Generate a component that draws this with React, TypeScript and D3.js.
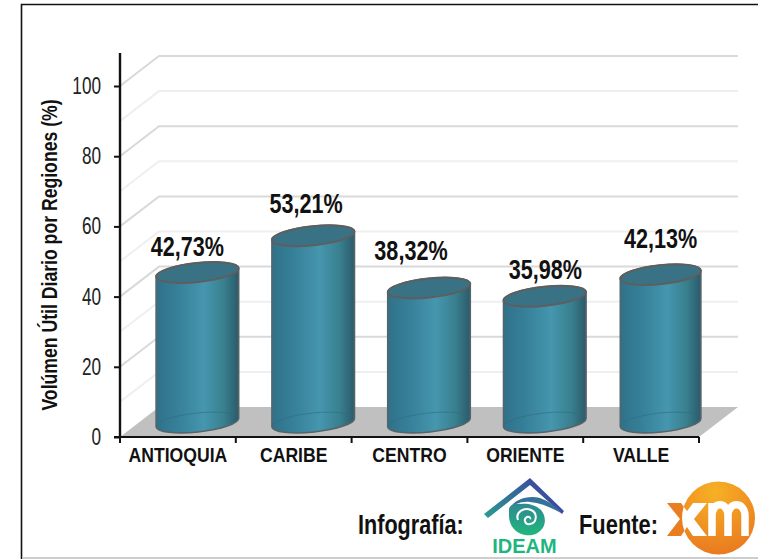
import React, { useEffect, useRef } from "react";
import * as d3 from "d3";

const regions = ["ANTIOQUIA", "CARIBE", "CENTRO", "ORIENTE", "VALLE"];
const volumes = [42.73, 53.21, 38.32, 35.98, 42.13];
const volumeLabels = ["42,73%", "53,21%", "38,32%", "35,98%", "42,13%"];
const majorTicks = [0, 20, 40, 60, 80, 100];
const gridValues = [10, 20, 30, 40, 50, 60, 70, 80, 90, 100];

const width = 758;
const height = 559;
const sans = "'Liberation Sans', Arial, sans-serif";

// the original uses a condensed face, so squeeze the text sideways
function squeeze(sel: any, ratio: number) {
  sel.each(function (this: SVGTextElement) {
    const w = this.getComputedTextLength();
    d3.select(this).attr("textLength", w * ratio).attr("lengthAdjust", "spacingAndGlyphs");
  });
}

function App() {
  const svgRef = useRef<SVGSVGElement | null>(null);

  useEffect(() => {
    const svg = d3.select(svgRef.current);
    svg.selectAll("*").remove();

    const x = d3.scaleBand().domain(regions).range([120, 699]);
    const y = d3.scaleLinear().domain([0, 100]).range([437, 86]);
    const depthX = 39;
    const depthY = -30;
    // hand placed labels, same as the source picture
    const labelDx = [-10, -7, -18, 0.5, 0];
    const labelDy = [-17, -23, -28, -17, -27];

    const defs = svg.append("defs");
    const grad = defs
      .append("linearGradient")
      .attr("id", "cyl")
      .attr("x1", 0)
      .attr("x2", 1)
      .attr("y1", 0)
      .attr("y2", 0);
    [
      [0, "#2f7289"],
      [0.25, "#367f98"],
      [0.58, "#4596ae"],
      [0.82, "#39808f"],
      [1, "#2b5a6b"]
    ].forEach(([o, c]) => grad.append("stop").attr("offset", o).attr("stop-color", c));

    const roof = defs
      .append("linearGradient")
      .attr("id", "roof")
      .attr("gradientUnits", "userSpaceOnUse")
      .attr("x1", 486)
      .attr("y1", 516)
      .attr("x2", 530)
      .attr("y2", 478);
    roof.append("stop").attr("offset", 0).attr("stop-color", "#2a9a90");
    roof.append("stop").attr("offset", 1).attr("stop-color", "#3b4fa0");

    const eye = defs
      .append("linearGradient")
      .attr("id", "eye")
      .attr("x1", 0)
      .attr("x2", 0)
      .attr("y1", 0)
      .attr("y2", 1);
    eye.append("stop").attr("offset", 0).attr("stop-color", "#2f8a92");
    eye.append("stop").attr("offset", 0.55).attr("stop-color", "#27a088");
    eye.append("stop").attr("offset", 1).attr("stop-color", "#1fb97a");

    const orange = defs
      .append("radialGradient")
      .attr("id", "xmOrange")
      .attr("cx", 0.45)
      .attr("cy", 0.15)
      .attr("r", 0.95);
    orange.append("stop").attr("offset", 0).attr("stop-color", "#f7b125");
    orange.append("stop").attr("offset", 1).attr("stop-color", "#e8741f");

    defs
      .append("clipPath")
      .attr("id", "xmClip")
      .append("circle")
      .attr("cx", 718.5)
      .attr("cy", 518)
      .attr("r", 36.5);

    // frame
    const frame = svg.append("g").attr("fill", "none");
    frame.append("path").attr("d", "M758,4.5H21.5V559").attr("stroke", "#111").attr("stroke-width", 1.6);
    frame.append("path").attr("d", "M22,558H758").attr("stroke", "#bdbdbd").attr("stroke-width", 1.5);

    // walls and floor
    const floor = d3.line()([
      [x.range()[0], y(0)],
      [x.range()[0] + depthX, y(0) + depthY],
      [x.range()[1] + depthX, y(0) + depthY],
      [x.range()[1], y(0)]
    ]);
    svg.append("path").attr("d", floor + "Z").attr("fill", "#c0c0c0");

    const grid = svg.append("g").attr("fill", "none");
    gridValues.forEach(v => {
      const pts: [number, number][] = [
        [x.range()[0], y(v)],
        [x.range()[0] + depthX, y(v) + depthY],
        [x.range()[1] + depthX, y(v) + depthY]
      ];
      grid
        .append("path")
        .attr("d", d3.line()(pts))
        .attr("stroke", v % 20 === 0 ? "#d9d9d9" : "#efefef")
        .attr("stroke-width", 2);
    });

    // cylinders
    const ry = 9.5;
    const tilt = -6;
    const cosT = Math.cos((tilt * Math.PI) / 180);
    const sinT = Math.sin((tilt * Math.PI) / 180);
    const baseY = y(0) - 14.5;
    const cyl = svg
      .append("g")
      .selectAll("g")
      .data(regions)
      .join("g");

    cyl.each(function (name, i) {
      const g = d3.select(this);
      // the last cylinder is a touch thinner in the source
      const rx = i === 4 ? 40.5 : 41.5;
      const cx = (x(name) as number) + x.bandwidth() / 2 + 19.5;
      const topY = baseY - (y(0) - y(volumes[i]));
      const dx = rx * cosT;
      const dy = rx * sinT;
      g.append("path")
        .attr(
          "d",
          `M${cx - dx},${topY - dy}L${cx - dx},${baseY - dy}` +
            `A${rx},${ry} ${tilt} 0 0 ${cx + dx},${baseY + dy}` +
            `L${cx + dx},${topY + dy}A${rx},${ry} ${tilt} 0 0 ${cx - dx},${topY - dy}Z`
        )
        .attr("fill", "url(#cyl)")
        .attr("stroke", "#56646a")
        .attr("stroke-width", 1.6);
      // back edge of the base seen through the cylinder
      g.append("path")
        .attr("d", `M${cx - dx},${baseY - dy}A${rx},${ry} ${tilt} 0 1 ${cx + dx},${baseY + dy}`)
        .attr("fill", "none")
        .attr("stroke", "#2f6a7e")
        .attr("stroke-opacity", 0.6)
        .attr("stroke-width", 1);
      g.append("ellipse")
        .attr("transform", `translate(${cx},${topY}) rotate(${tilt})`)
        .attr("rx", rx)
        .attr("ry", ry)
        .attr("fill", "#3a7285")
        .attr("stroke", "#5e5e5e")
        .attr("stroke-width", 2);
      g.append("text")
        .attr("x", cx + labelDx[i])
        .attr("y", topY + labelDy[i])
        .attr("text-anchor", "middle")
        .attr("font-family", sans)
        .attr("font-weight", "bold")
        .attr("font-size", 27)
        .attr("fill", "#111")
        .text(volumeLabels[i])
        .call(squeeze, 0.8);
    });

    // axes
    const yAxis = svg
      .append("g")
      .attr("transform", "translate(120,0)")
      .call(
        d3
          .axisLeft(y)
          .tickValues(majorTicks)
          .tickSize(6)
          .tickPadding(13)
          .tickFormat(d3.format("d") as any)
      );
    yAxis.select(".domain").remove();
    yAxis.selectAll("line").attr("stroke", "#111").attr("stroke-width", 2);
    yAxis
      .selectAll("text")
      .attr("font-family", sans)
      .attr("font-size", 23.5)
      .attr("fill", "#222")
      .call(squeeze, 0.73);
    svg
      .append("line")
      .attr("x1", 120)
      .attr("x2", 120)
      .attr("y1", 53)
      .attr("y2", 438)
      .attr("stroke", "#111")
      .attr("stroke-width", 2.4);

    const xAxis = svg
      .append("g")
      .attr("transform", `translate(0,${y(0)})`)
      .call(d3.axisBottom(x).tickSize(0).tickPadding(11));
    xAxis.select(".domain").remove();
    xAxis
      .selectAll("text")
      .attr("font-family", sans)
      .attr("font-weight", "bold")
      .attr("font-size", 20)
      .attr("fill", "#111")
      .call(squeeze, 0.88);
    svg
      .append("line")
      .attr("x1", 114)
      .attr("x2", 699)
      .attr("y1", y(0))
      .attr("y2", y(0))
      .attr("stroke", "#111")
      .attr("stroke-width", 2);
    svg
      .append("g")
      .selectAll("line")
      .data([...regions.map(r => x(r) as number), x.range()[1]])
      .join("line")
      .attr("x1", d => d)
      .attr("x2", d => d)
      .attr("y1", y(0))
      .attr("y2", y(0) + 6)
      .attr("stroke", "#111")
      .attr("stroke-width", 2);

    svg
      .append("text")
      .attr("transform", "translate(57,255) rotate(-90)")
      .attr("text-anchor", "middle")
      .attr("font-family", sans)
      .attr("font-weight", "bold")
      .attr("font-size", 21.5)
      .attr("fill", "#111")
      .text("Volúmen Útil Diario por Regiones (%)")
      .call(squeeze, 0.82);

    // footer
    const footer = svg
      .append("g")
      .attr("font-family", sans)
      .attr("font-weight", "bold")
      .attr("font-size", 27)
      .attr("fill", "#111");
    footer.append("text").attr("x", 358).attr("y", 534).text("Infografía:").call(squeeze, 0.8);
    footer.append("text").attr("x", 579).attr("y", 534).text("Fuente:").call(squeeze, 0.81);

    // IDEAM logo
    const ideam = svg.append("g");
    ideam
      .append("path")
      .attr("d", "M484,514L530,478L564,511L562,514L530,485L488,518Z")
      .attr("fill", "url(#roof)");
    ideam
      .append("path")
      .attr("d", "M509,509C515,498 530,495 540,498C549,501 556,507 561,513C552,508 541,503 530,502C521,501 514,504 509,509Z")
      .attr("fill", "#35729a");
    ideam
      .append("path")
      .attr(
        "d",
        "M509,512C508,506 513,503 521,504C525,503 535,504 541,510C546,516 546,524 542,529C537,535 531,536 525,535C514,533 508,524 509,512Z"
      )
      .attr("fill", "url(#eye)");
    ideam
      .append("path")
      .attr("d", "M518,520C515,512 524,507 531,510C538,513 537,523 530,524C525,525 523,519 527,517C529,516 531,518 530,519")
      .attr("fill", "none")
      .attr("stroke", "#fff")
      .attr("stroke-width", 2);
    ideam
      .append("text")
      .attr("x", 524.5)
      .attr("y", 553)
      .attr("text-anchor", "middle")
      .attr("font-family", sans)
      .attr("font-weight", "bold")
      .attr("font-size", 20)
      .attr("fill", "#1fb57f")
      .text("IDEAM");

    // XM logo
    const xm = svg.append("g");
    xm.append("circle")
      .attr("cx", 718.5)
      .attr("cy", 518)
      .attr("r", 36.5)
      .attr("fill", "url(#xmOrange)");
    const xShape = "M667,503H681L687,511L693,503H707L694,519L707,536H693L687,527L681,536H667L680,519Z";
    xm.append("path").attr("d", xShape).attr("fill", "#ea7d20");
    xm.append("path").attr("d", xShape).attr("fill", "#fff").attr("clip-path", "url(#xmClip)");
    xm.append("path")
      .attr("d", "M712,536V503M712,516C712,501 728,501 728,516V536M728,516C728,501 745,501 745,516V536")
      .attr("fill", "none")
      .attr("stroke", "#fff")
      .attr("stroke-width", 7.5);
  }, []);

  return (
    <svg
      ref={svgRef}
      width={width}
      height={height}
      style={{ position: "absolute", left: 0, top: 0, background: "#fff" }}
    />
  );
}

export default App;
